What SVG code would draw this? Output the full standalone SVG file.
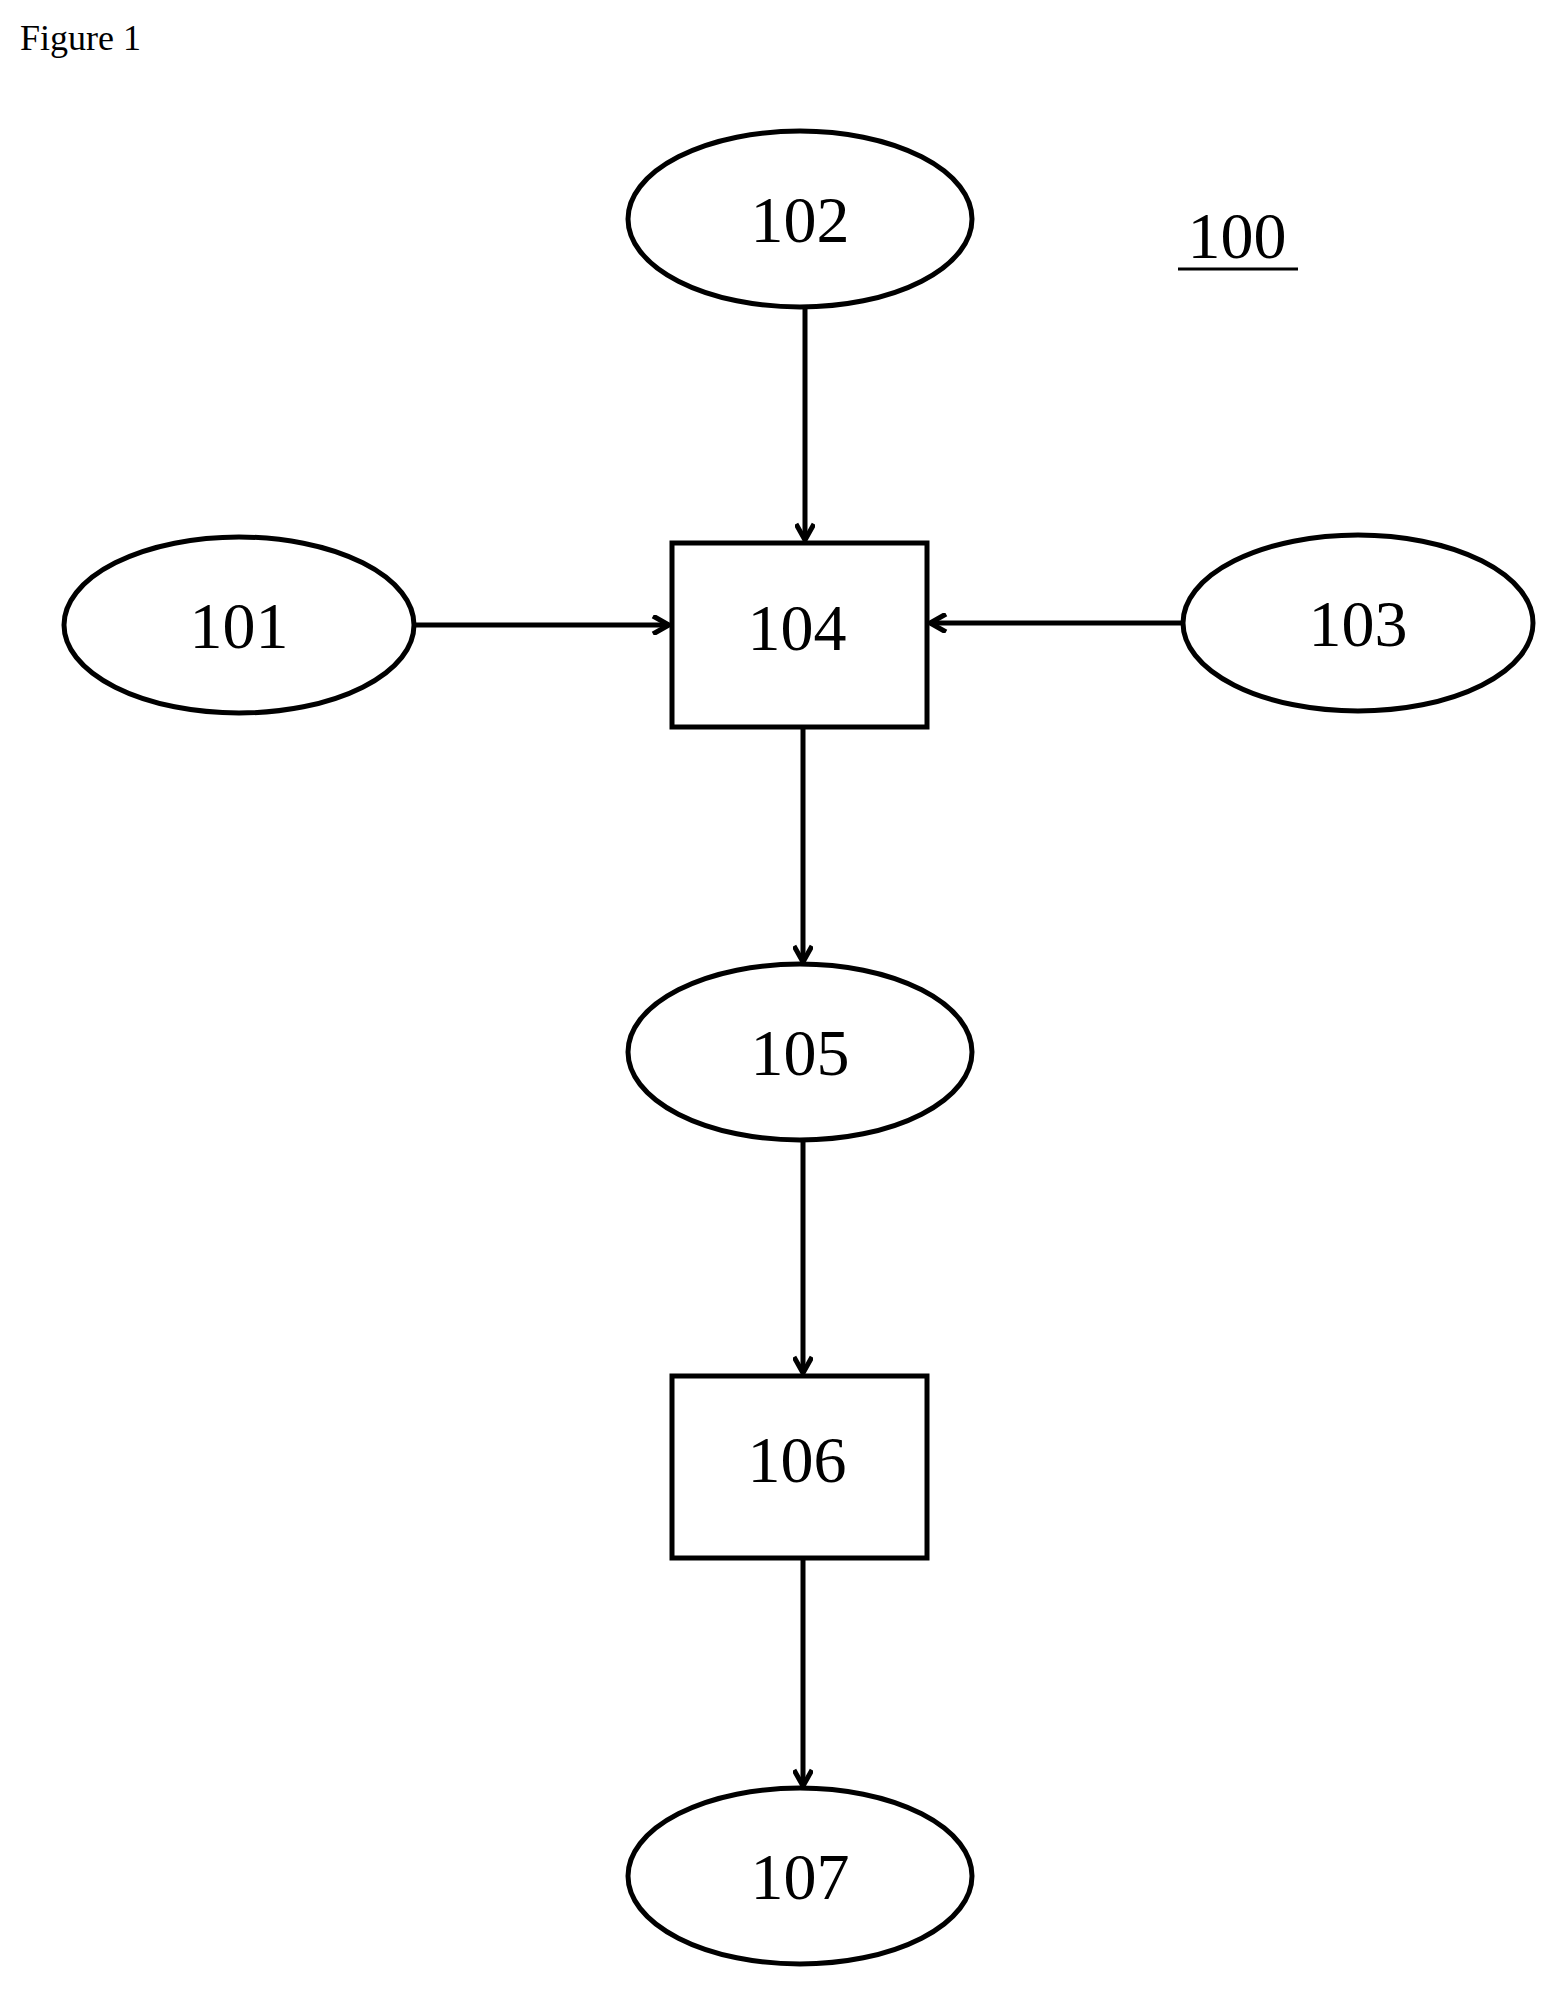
<svg xmlns="http://www.w3.org/2000/svg" width="1556" height="1998" viewBox="0 0 1556 1998">
<style>
.n{fill:#fff;stroke:#000;stroke-width:5}
.t{font-family:"Liberation Serif",serif;font-size:66px;text-anchor:middle;fill:#000}
.c{stroke:#000;stroke-width:5;fill:none}
</style>
<defs><marker id="a" viewBox="0 0 20 20" refX="19" refY="10" markerWidth="20" markerHeight="20" markerUnits="userSpaceOnUse" orient="auto"><path d="M3 1 L19 10 L3 19" fill="none" stroke="#000" stroke-width="5"/></marker></defs>
<rect width="1556" height="1998" fill="#fff"/>
<text x="20" y="50" style="font-family:'Liberation Serif',serif;font-size:36px">Figure 1</text>
<g id="label100"><text x="1237" y="258" class="t">100</text><line x1="1178" y1="269" x2="1298" y2="269" stroke="#000" stroke-width="3"/></g>
<g id="n102"><ellipse cx="800" cy="219" rx="172" ry="88" class="n"/><text x="800" y="242" class="t">102</text></g>
<g id="n101"><ellipse cx="239" cy="625" rx="175" ry="88" class="n"/><text x="239" y="648" class="t">101</text></g>
<g id="n103"><ellipse cx="1358" cy="623" rx="175" ry="88" class="n"/><text x="1358" y="646" class="t">103</text></g>
<g id="n104"><rect x="672" y="543" width="255" height="184" class="n"/><text x="797" y="650" class="t">104</text></g>
<g id="n105"><ellipse cx="800" cy="1052" rx="172" ry="88" class="n"/><text x="800" y="1075" class="t">105</text></g>
<g id="n106"><rect x="672" y="1376" width="255" height="182" class="n"/><text x="797" y="1482" class="t">106</text></g>
<g id="n107"><ellipse cx="800" cy="1876" rx="172" ry="88" class="n"/><text x="800" y="1899" class="t">107</text></g>
<g id="connectors">
<line x1="805" y1="307" x2="805" y2="540" class="c" marker-end="url(#a)"/>
<line x1="414" y1="625" x2="669" y2="625" class="c" marker-end="url(#a)"/>
<line x1="1184" y1="623" x2="930" y2="623" class="c" marker-end="url(#a)"/>
<line x1="803" y1="727" x2="803" y2="962" class="c" marker-end="url(#a)"/>
<line x1="803" y1="1140" x2="803" y2="1373" class="c" marker-end="url(#a)"/>
<line x1="803" y1="1558" x2="803" y2="1786" class="c" marker-end="url(#a)"/>
</g>
</svg>
